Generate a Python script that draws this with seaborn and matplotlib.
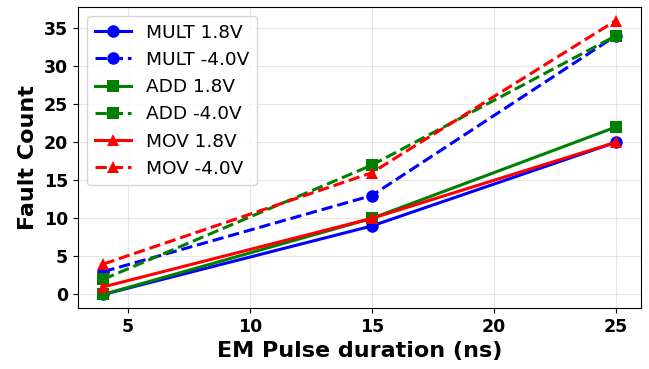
import matplotlib
matplotlib.use("Agg")
import matplotlib.pyplot as plt
import seaborn as sns
import pandas as pd

durations = [4, 15, 25]
mult_18 = [0, 9, 20]
mult_40 = [3, 13, 34]
add_18 = [0, 10, 22]
add_40 = [2, 17, 34]
mov_18 = [1, 10, 20]
mov_40 = [4, 16, 36]

series = [
    ("MULT 1.8V", mult_18, "blue", "o", "-"),
    ("MULT -4.0V", mult_40, "blue", "o", "--"),
    ("ADD 1.8V", add_18, "green", "s", "-"),
    ("ADD -4.0V", add_40, "green", "s", "--"),
    ("MOV 1.8V", mov_18, "red", "^", "-"),
    ("MOV -4.0V", mov_40, "red", "^", "--"),
]

fig = plt.figure(figsize=(6.49, 3.69), dpi=100)
ax = fig.add_axes([0.120, 0.165, 0.868, 0.816])

for label, vals, color, marker, ls in series:
    df = pd.DataFrame({"x": durations, "y": vals})
    sns.lineplot(data=df, x="x", y="y", ax=ax, color=color, marker=marker,
                 linestyle=ls, linewidth=2.2, markersize=9, markeredgewidth=0,
                 label=label)

ax.set_xlabel("EM Pulse duration (ns)", fontsize=16, fontweight="bold")
ax.set_ylabel("Fault Count", fontsize=16, fontweight="bold")
ax.tick_params(labelsize=12.5)
ax.set_xticks([5, 10, 15, 20, 25])
ax.set_yticks([0, 5, 10, 15, 20, 25, 30, 35])
for t in ax.get_xticklabels() + ax.get_yticklabels():
    t.set_fontweight("bold")
ax.grid(alpha=0.3)
ax.legend(fontsize=13.3, loc="upper left")

plt.savefig("out.png", dpi=100)
plt.close()
